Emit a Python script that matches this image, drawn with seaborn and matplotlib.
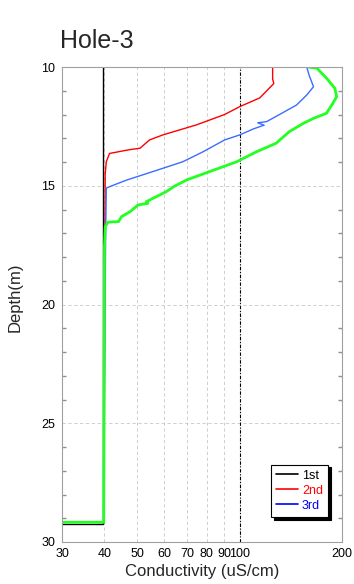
import numpy as np
import pandas as pd
import matplotlib
matplotlib.use("Agg")
import matplotlib.pyplot as plt
import seaborn as sns
from matplotlib.ticker import FixedLocator, MultipleLocator, NullLocator

# ---------------- data ----------------
depth_1st = [10.0, 29.26, 29.26]
cond_1st = [39.6, 39.6, 29.0]

depth_2nd = [10.0, 10.5, 10.7, 10.9, 11.3, 11.67, 12.0, 12.44, 12.86, 13.07,
             13.42, 13.49, 13.64, 13.99, 14.5, 29.17, 29.17]
cond_2nd = [125, 125, 126, 122, 114.6, 100, 90.3, 74.5, 59.4, 54.3,
            50.9, 47.0, 41.4, 40.5, 40.2, 39.8, 29.0]

depth_3rd = [10.0, 10.34, 10.83, 11.18, 11.6, 12.0, 12.3, 12.35, 12.45, 12.6,
             12.86, 13.07, 13.57, 13.99, 14.4, 14.76, 15.04, 15.1, 17.3,
             29.17, 29.17]
cond_3rd = [157.5, 160, 164.9, 157.5, 147, 131, 120, 113, 118, 110,
            100, 90.3, 78, 68, 55.6, 46.5, 41.4, 40.5, 40.3,
            39.8, 29.0]

depth_4th = [10.0, 10.05, 10.48, 10.9, 11.25, 11.53, 11.95, 12.16, 12.37, 12.72,
             13.21, 13.57, 13.99, 14.4, 14.76, 15.04, 15.25, 15.67, 15.74, 15.81,
             16.09, 16.3, 16.51, 16.53, 16.72, 17.56, 29.17, 29.17]
cond_4th = [159, 168.7, 180.3, 190.6, 192.9, 188, 180, 165, 154, 140,
            128, 112, 98, 81.7, 69.7, 63.9, 60.8, 53.1, 53.7, 50.2,
            47.6, 44.9, 44.0, 41.0, 40.2, 40.0, 39.8, 29.0]

ref_conductivity = 100
x_ticks = [30, 40, 50, 60, 70, 80, 90, 100, 200]
x_tick_labels = ["30", "40", "50", "60", "70", "80", "90", "100", "200"]
y_ticks = [10, 15, 20, 25, 30]

# ---------------- style ----------------
sns.set_theme(style="white")
plt.rcParams["font.family"] = ["Liberation Sans", "DejaVu Sans"]

fig = plt.figure(figsize=(3.54, 5.84), dpi=100)
ax = fig.add_axes([62 / 354, 42 / 584, 280 / 354, 475 / 584])

series = [
    (cond_1st, depth_1st, "black", 1.0, "1st"),
    (cond_2nd, depth_2nd, "#ff0000", 1.0, "2nd"),
    (cond_3rd, depth_3rd, "#3a6cff", 1.0, "3rd"),
    (cond_4th, depth_4th, "#22ff22", 2.0, "_4th"),
]
for cx, dy, col, lw, lab in series:
    df = pd.DataFrame({"cond": cx, "depth": dy})
    sns.lineplot(data=df, x="cond", y="depth", sort=False, estimator=None,
                 color=col, lw=lw, label=lab, ax=ax, legend=False)

ax.axvline(ref_conductivity, color="black", lw=0.8, ls=(0, (3, 1.5, 1, 1.5)), zorder=1.5)

ax.set_xscale("log")
ax.set_xlim(30, 200)
ax.set_ylim(30, 10)
ax.xaxis.set_major_locator(FixedLocator(x_ticks))
ax.set_xticklabels(x_tick_labels)
ax.xaxis.set_minor_locator(NullLocator())
ax.yaxis.set_major_locator(FixedLocator(y_ticks))
ax.yaxis.set_minor_locator(MultipleLocator(1))

ax.grid(True, which="major", ls=(0, (4, 3)), color="#c8c8c8", lw=0.6)
ax.set_axisbelow(True)

for s in ax.spines.values():
    s.set_color("#a0a0a0")
    s.set_linewidth(0.8)

ax.tick_params(axis="both", which="both", direction="in", color="#909090",
               labelsize=9, labelcolor="black")
ax.tick_params(axis="y", which="major", length=0, pad=5, left=True, right=True)
ax.tick_params(axis="y", which="minor", length=3, left=True, right=True)
ax.tick_params(axis="x", which="major", length=0, pad=4)

ax.set_xlabel("Conductivity (uS/cm)", fontsize=12, labelpad=3)
ax.set_ylabel("Depth(m)", fontsize=12)
ax.yaxis.set_label_coords(-0.14, 0.515)

fig.text(60 / 354, 1 - 48 / 584, "Hole-3", fontsize=18, ha="left", va="baseline")

handles = [plt.Line2D([], [], color=c, lw=1.2) for c in ["black", "#ff0000", "#0000ff"]]
leg = ax.legend(handles, ["1st", "2nd", "3rd"], loc="lower right",
                bbox_to_anchor=(0.95, 0.053), fontsize=9, frameon=True,
                fancybox=False, shadow={"color": "black", "alpha": 1.0},
                handlelength=1.8, handletextpad=0.3, borderpad=0.4,
                labelspacing=0.25, borderaxespad=0)
leg.get_frame().set_edgecolor("black")
leg.get_frame().set_linewidth(0.8)
for t, c in zip(leg.get_texts(), ["black", "#ff0000", "#0000ff"]):
    t.set_color(c)

fig.savefig("out.png", dpi=100)
